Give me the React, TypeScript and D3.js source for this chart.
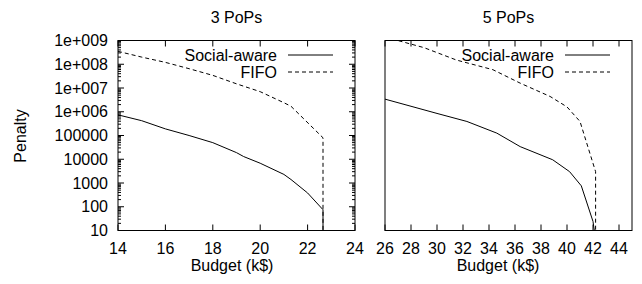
import React, { useEffect, useRef } from "react";
import { select, scaleLinear, scaleLog, line, range } from "d3";

// 3 PoPs panel
const budget3Social = [14, 15, 16, 17, 18, 19, 19.3, 20, 21, 21.3, 22, 22.65, 22.65];
const social3 = [7.4e5, 4.2e5, 1.9e5, 1e5, 5e4, 1.9e4, 1.3e4, 6.8e3, 2.3e3, 1.4e3, 380, 75, 10];
const budget3Fifo = [14, 15, 16, 17, 18, 19, 20, 21, 21.3, 22.65, 22.65];
const fifo3 = [3.5e8, 2e8, 1.2e8, 6.5e7, 3.4e7, 1.5e7, 7e6, 2.4e6, 1.7e6, 8e4, 10];

// 5 PoPs panel
const budget5Social = [26, 28, 30, 32.3, 34.6, 36.4, 38.9, 40.2, 41.1, 42, 42.1];
const social5 = [3.4e6, 1.7e6, 8.5e5, 3.9e5, 1.26e5, 3.4e4, 9.5e3, 3e3, 760, 24, 10];
const budget5Fifo = [26, 29, 31.5, 34.3, 36.4, 38.7, 40, 41, 42.2, 42.2];
const fifo5 = [1.4e9, 5e8, 1.5e8, 5.9e7, 1.6e7, 4.4e6, 1.6e6, 3.9e5, 3e3, 10];

const yTickLabels = ["10", "100", "1000", "10000", "100000", "1e+006", "1e+007", "1e+008", "1e+009"];
const xTicks3 = [14, 16, 18, 20, 22, 24];
const xTicks5 = [26, 28, 30, 32, 34, 36, 38, 40, 42, 44];

const FONT = "'Liberation Sans', Arial, sans-serif";
const FS = 16;

export default function App() {
  const svgRef = useRef<SVGSVGElement>(null);

  useEffect(() => {
    const svg = select(svgRef.current);
    svg.selectAll("*").remove();

    const top = 40.5;
    const bottom = 230.5;
    const y = scaleLog().domain([10, 1e9]).range([bottom, top]);

    const panels = [
      {
        title: "3 PoPs", x0: 118, x1: 355, domain: [14, 24], ticks: xTicks3, yAxis: true,
        social: budget3Social.map((b, i) => [b, social3[i]]),
        fifo: budget3Fifo.map((b, i) => [b, fifo3[i]]),
        xlabelX: 232,
      },
      {
        title: "5 PoPs", x0: 385, x1: 632, domain: [26, 45], ticks: xTicks5, yAxis: false,
        social: budget5Social.map((b, i) => [b, social5[i]]),
        fifo: budget5Fifo.map((b, i) => [b, fifo5[i]]),
        xlabelX: 498,
      },
    ];

    panels.forEach((p, pi) => {
      const x = scaleLinear().domain(p.domain).range([p.x0, p.x1]);
      const g = svg.append("g");

      g.append("clipPath")
        .attr("id", "clip" + pi)
        .append("rect")
        .attr("x", p.x0)
        .attr("y", top)
        .attr("width", p.x1 - p.x0)
        .attr("height", bottom - top);

      // x ticks (bottom + mirrored top)
      p.ticks.forEach((t) => {
        g.append("line").attr("x1", x(t)).attr("x2", x(t)).attr("y1", bottom).attr("y2", bottom - 6)
          .attr("stroke", "#000");
        g.append("line").attr("x1", x(t)).attr("x2", x(t)).attr("y1", top).attr("y2", top + 6)
          .attr("stroke", "#000");
        g.append("text").attr("x", x(t)).attr("y", 248).attr("text-anchor", "middle")
          .attr("dominant-baseline", "central").attr("font-family", FONT).attr("font-size", FS)
          .text(String(t));
      });

      if (p.yAxis) {
        yTickLabels.forEach((lab, i) => {
          const v = Math.pow(10, i + 1);
          [p.x0, p.x1].forEach((bx, side) => {
            const d = side === 0 ? 6 : -6;
            g.append("line").attr("x1", bx).attr("x2", bx + d).attr("y1", y(v)).attr("y2", y(v))
              .attr("stroke", "#000");
          });
          g.append("text").attr("x", 108).attr("y", y(v)).attr("text-anchor", "end")
            .attr("dominant-baseline", "central").attr("font-family", FONT).attr("font-size", FS)
            .text(lab);
          if (i < yTickLabels.length - 1) {
            range(2, 10).forEach((m) => {
              const mv = v * m;
              [p.x0, p.x1].forEach((bx, side) => {
                const d = side === 0 ? 3 : -3;
                g.append("line").attr("x1", bx).attr("x2", bx + d).attr("y1", y(mv)).attr("y2", y(mv))
                  .attr("stroke", "#000");
              });
            });
          }
        });
      }

      const lineGen = line<number[]>().x((d) => x(d[0])).y((d) => y(d[1]));

      g.append("path").attr("d", lineGen(p.social)).attr("fill", "none").attr("stroke", "#000")
        .attr("stroke-width", 1).attr("clip-path", `url(#clip${pi})`);
      g.append("path").attr("d", lineGen(p.fifo)).attr("fill", "none").attr("stroke", "#000")
        .attr("stroke-width", 1).attr("stroke-dasharray", "4,3").attr("clip-path", `url(#clip${pi})`);

      // legend
      const keys = [
        { label: "Social-aware", dash: null, ky: 55 },
        { label: "FIFO", dash: "4,3", ky: 72 },
      ];
      keys.forEach((k) => {
        g.append("text").attr("x", p.x1 - 78).attr("y", k.ky).attr("text-anchor", "end")
          .attr("dominant-baseline", "central").attr("font-family", FONT).attr("font-size", FS)
          .text(k.label);
        g.append("line").attr("x1", p.x1 - 67).attr("x2", p.x1 - 22).attr("y1", k.ky).attr("y2", k.ky)
          .attr("stroke", "#000").attr("stroke-dasharray", k.dash);
      });

      // border
      g.append("rect").attr("x", p.x0).attr("y", top).attr("width", p.x1 - p.x0)
        .attr("height", bottom - top).attr("fill", "none").attr("stroke", "#000");

      g.append("text").attr("x", (p.x0 + p.x1) / 2).attr("y", 17).attr("text-anchor", "middle")
        .attr("dominant-baseline", "central").attr("font-family", FONT).attr("font-size", FS)
        .text(p.title);
      g.append("text").attr("x", p.xlabelX).attr("y", 265).attr("text-anchor", "middle")
        .attr("dominant-baseline", "central").attr("font-family", FONT).attr("font-size", FS)
        .text("Budget (k$)");
    });

    svg.append("text").attr("transform", "translate(20,136) rotate(-90)").attr("text-anchor", "middle")
      .attr("dominant-baseline", "central").attr("font-family", FONT).attr("font-size", FS)
      .text("Penalty");
  }, []);

  return (
    <svg
      ref={svgRef}
      width={642}
      height={284}
      style={{ position: "absolute", left: 0, top: 0, background: "#fff" }}
    />
  );
}
